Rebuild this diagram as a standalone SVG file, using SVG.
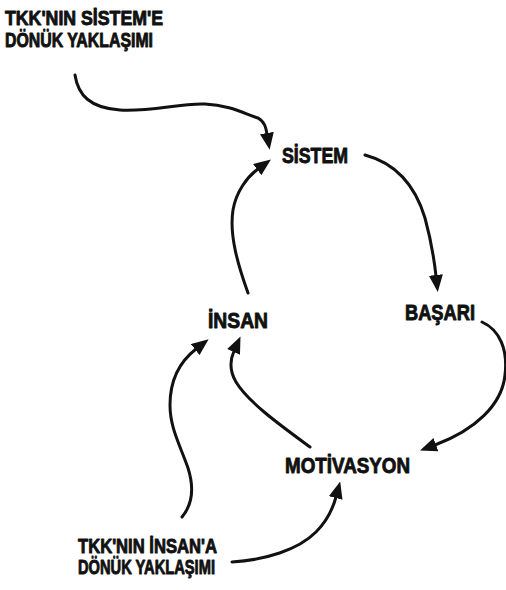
<svg xmlns="http://www.w3.org/2000/svg" width="506" height="590" viewBox="0 0 506 590">
  <style>
    .lbl { font-family: "Liberation Sans Narrow", "Liberation Sans", Arial, sans-serif; font-weight: bold; fill: #111; stroke: #111; stroke-width: 0.9; stroke-linejoin: round; }
    .node { font-size: 22px; }
    .note { font-size: 20px; }
    .conn { fill: none; stroke: #111; stroke-width: 3; stroke-linecap: round; stroke-linejoin: round; }
  </style>
  <defs>
    <marker id="head" viewBox="0 0 17 14" refX="1" refY="7" markerWidth="17" markerHeight="14" markerUnits="userSpaceOnUse" orient="auto">
      <path d="M0,0 L17,7 L0,14 z" fill="#111"/>
    </marker>
  </defs>
  <rect width="506" height="590" fill="#fff"/>

  <!-- annotation: system-oriented approach -->
  <g id="tkk-sistem">
    <text class="lbl note" x="5" y="25" textLength="158" lengthAdjust="spacingAndGlyphs">TKK'NIN SİSTEM'E</text>
    <text class="lbl note" x="5" y="47" textLength="148" lengthAdjust="spacingAndGlyphs">DÖNÜK YAKLAŞIMI</text>
  </g>

  <g id="sistem">
    <text class="lbl node" x="282" y="163" textLength="66" lengthAdjust="spacingAndGlyphs">SİSTEM</text>
  </g>

  <g id="basari">
    <text class="lbl node" x="405" y="320" textLength="70" lengthAdjust="spacingAndGlyphs">BAŞARI</text>
  </g>

  <g id="insan">
    <text class="lbl node" x="208" y="328" textLength="60" lengthAdjust="spacingAndGlyphs">İNSAN</text>
  </g>

  <g id="motivasyon">
    <text class="lbl node" x="285" y="473" textLength="125" lengthAdjust="spacingAndGlyphs">MOTİVASYON</text>
  </g>

  <!-- annotation: people-oriented approach -->
  <g id="tkk-insan">
    <text class="lbl note" x="78" y="553" textLength="139" lengthAdjust="spacingAndGlyphs">TKK'NIN İNSAN'A</text>
    <text class="lbl note" x="78" y="574" textLength="137" lengthAdjust="spacingAndGlyphs">DÖNÜK YAKLAŞIMI</text>
  </g>

  <g id="connectors">
    <!-- system approach -> SİSTEM -->
    <path class="conn" marker-end="url(#head)" d="M75,75 C78,95 90,108 120,110 C150,112 180,103 205,104 C230,105 245,114 258,118 C265,122 266,128 267,134"/>
    <!-- İNSAN -> SİSTEM -->
    <path class="conn" marker-end="url(#head)" d="M248,293 C238,265 229,235 233,210 C236,192 247,177 258,169"/>
    <!-- SİSTEM -> BAŞARI -->
    <path class="conn" marker-end="url(#head)" d="M365,155 C395,163 415,185 425,218 C431,240 434,258 436,276"/>
    <!-- BAŞARI -> MOTİVASYON -->
    <path class="conn" marker-end="url(#head)" d="M482,322 C500,330 508,350 505,375 C502,405 475,430 435,445"/>
    <!-- MOTİVASYON -> İNSAN -->
    <path class="conn" marker-end="url(#head)" d="M310,447 C280,425 248,402 236,382 C229,370 230,360 234,351"/>
    <!-- people approach -> İNSAN -->
    <path class="conn" marker-end="url(#head)" d="M182,517 C192,505 195,490 188,468 C180,445 170,428 170,405 C170,382 178,363 196,349"/>
    <!-- people approach -> MOTİVASYON -->
    <path class="conn" marker-end="url(#head)" d="M232,562 C265,560 298,550 316,532 C328,520 333,508 336,497"/>
  </g>
</svg>
